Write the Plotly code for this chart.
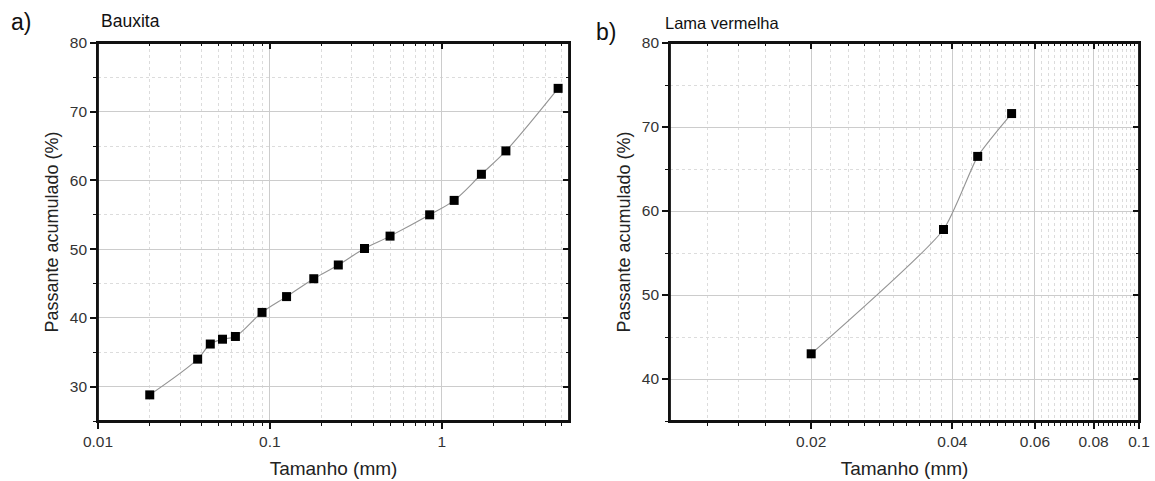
import plotly.graph_objects as go

# ---- data ----
bx_size = [0.02, 0.038, 0.045, 0.053, 0.063, 0.09, 0.125, 0.18, 0.25, 0.355, 0.5, 0.85, 1.18, 1.7, 2.36, 4.75]
bx_pass = [28.8, 34.0, 36.2, 36.9, 37.3, 40.8, 43.1, 45.7, 47.7, 50.1, 51.9, 55.0, 57.1, 60.9, 64.3, 73.4]

lv_size = [0.02, 0.0383, 0.0453, 0.0535]
lv_pass = [43.0, 57.8, 66.5, 71.6]

left_major = [0.01, 0.1, 1]
left_major_text = ["0.01", "0.1", "1"]
right_major = [0.02, 0.04, 0.06, 0.08, 0.1]
right_major_text = ["0.02", "0.04", "0.06", "0.08", "0.1"]

left_minor = [m * d for d in (0.01, 0.1, 1) for m in range(2, 10) if m * d < 5.5]
right_minor = [round(0.01 + 0.002 * i, 4) for i in range(1, 45)]
right_minor = [v for v in right_minor if v not in right_major]

FONT = "Liberation Sans, Arial, sans-serif"
AX = "#111111"
GRID = "#cccccc"
MGRID = "#dcdcdc"

# pixel layout of the plot areas
ML, MR, MT, MB = 98, 16, 43, 60
W, H = 1155, 481
PW, PH = W - ML - MR, H - MT - MB


def px(x):
    return (x - ML) / PW


def py(y):
    return (H - MB - y) / PH


fig = go.Figure()
mk = dict(symbol="square", size=9, color="black")

fig.add_trace(go.Scatter(x=bx_size, y=bx_pass, mode="lines+markers",
                         line=dict(color="#949494", width=1.1, shape="spline", smoothing=1.0),
                         marker=mk, xaxis="x", yaxis="y", showlegend=False))
fig.add_trace(go.Scatter(x=lv_size, y=lv_pass, mode="lines+markers",
                         line=dict(color="#949494", width=1.1, shape="spline", smoothing=0.55),
                         marker=mk, xaxis="x2", yaxis="y2", showlegend=False))

xdomL = [0, px(569)]
xdomR = [px(670), 1]
ydom = [0, 1]

tickfont = dict(family=FONT, size=15.5, color="#333333")
LW = 1.6


def xax(domain, rng, major, major_text, minor, anchor):
    return dict(domain=domain, type="log", range=rng, anchor=anchor, automargin=False,
                tickmode="array", tickvals=major, ticktext=major_text,
                ticks="outside", ticklen=6, tickwidth=1.5, tickcolor=AX,
                showline=True, linecolor=AX, linewidth=LW,
                showgrid=True, gridcolor=GRID, gridwidth=1,
                minor=dict(tickvals=minor, ticks="outside", ticklen=3.5, tickwidth=1.2,
                           tickcolor=AX, showgrid=True, gridcolor=MGRID, griddash="dot",
                           gridwidth=1),
                tickfont=tickfont, zeroline=False,
                title=dict(text="Tamanho (mm)", font=dict(family=FONT, size=19, color="#222222"),
                           standoff=12))


def yax(domain, rng, anchor):
    return dict(domain=domain, range=rng, anchor=anchor, automargin=False,
                tickmode="linear", tick0=0, dtick=10,
                ticks="outside", ticklen=6, tickwidth=1.5, tickcolor=AX,
                showline=True, linecolor=AX, linewidth=LW,
                showgrid=True, gridcolor=GRID, gridwidth=1,
                minor=dict(dtick=5, ticks="outside", ticklen=3.5, tickwidth=1.2, tickcolor=AX,
                           showgrid=True, gridcolor=MGRID, griddash="dot", gridwidth=1),
                tickfont=tickfont, zeroline=False,
                title=dict(text="Passante acumulado (%)",
                           font=dict(family=FONT, size=18, color="#222222"), standoff=7))


def xtop(domain, rng, major, minor, over, anchor):
    return dict(domain=domain, type="log", range=rng, overlaying=over, anchor=anchor, side="top",
                automargin=False,
                tickmode="array", tickvals=major, ticks="inside", ticklen=6, tickwidth=1.5,
                tickcolor=AX, showticklabels=False, showline=True, linecolor=AX, linewidth=LW,
                showgrid=False, zeroline=False,
                minor=dict(tickvals=minor, ticks="inside", ticklen=3.5, tickwidth=1.2,
                           tickcolor=AX, showgrid=False))


def yright(domain, rng, over, anchor):
    return dict(domain=domain, range=rng, overlaying=over, anchor=anchor, side="right",
                automargin=False,
                tickmode="linear", tick0=0, dtick=10, ticks="inside", ticklen=6, tickwidth=1.5,
                tickcolor=AX, showticklabels=False, showline=True, linecolor=AX, linewidth=LW,
                showgrid=False, zeroline=False,
                minor=dict(dtick=5, ticks="inside", ticklen=3.5, tickwidth=1.2, tickcolor=AX,
                           showgrid=False))


fig.update_layout(
    template="none",
    width=W, height=H,
    margin=dict(l=ML, r=MR, t=MT, b=MB, pad=0),
    paper_bgcolor="white", plot_bgcolor="white",
    font=dict(family=FONT),
    showlegend=False,
    xaxis=xax(xdomL, [-2, 0.74], left_major, left_major_text, left_minor, "y"),
    yaxis=yax(ydom, [25, 80], "x"),
    xaxis2=xax(xdomR, [-2, -1], right_major, right_major_text, right_minor, "y2"),
    yaxis2=yax(ydom, [35, 80], "x2"),
    xaxis3=xtop(xdomL, [-2, 0.74], left_major, left_minor, "x", "y3"),
    yaxis3=yright(ydom, [25, 80], "y", "x3"),
    xaxis4=xtop(xdomR, [-2, -1], right_major, right_minor, "x2", "y4"),
    yaxis4=yright(ydom, [35, 80], "y2", "x4"),
)

# invisible helper traces so the mirror axes are drawn
fig.add_trace(go.Scatter(x=bx_size, y=bx_pass, mode="markers", marker=dict(opacity=0),
                         xaxis="x3", yaxis="y3", showlegend=False, hoverinfo="skip"))
fig.add_trace(go.Scatter(x=lv_size, y=lv_pass, mode="markers", marker=dict(opacity=0),
                         xaxis="x4", yaxis="y4", showlegend=False, hoverinfo="skip"))

# dark frame around each plot area
for xr, yr in (("x domain", "y domain"), ("x2 domain", "y2 domain")):
    fig.add_shape(type="rect", xref=xr, yref=yr, x0=0, x1=1, y0=0, y1=1,
                  line=dict(color=AX, width=1.8), fillcolor="rgba(0,0,0,0)", layer="above")

ann = [
    ("a)", 9, 22, 23),
    ("Bauxita", 99, 21, 17.5),
    ("b)", 594, 32, 23),
    ("Lama vermelha", 663, 23, 16.5),
]
for text, x, y, size in ann:
    fig.add_annotation(text=text, x=px(x), y=py(y), xref="paper", yref="paper",
                       xanchor="left", yanchor="middle", showarrow=False,
                       font=dict(family=FONT, size=size, color="#111111"))

fig.write_html("out.html")
